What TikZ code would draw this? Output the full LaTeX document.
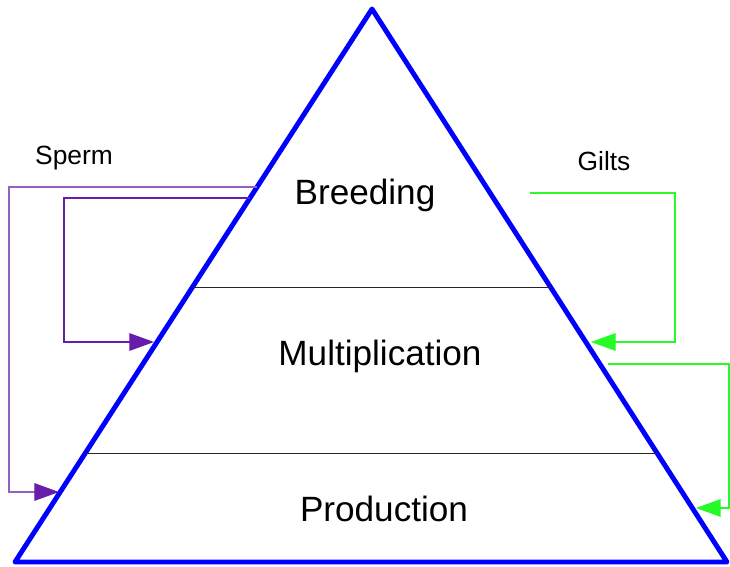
\documentclass[tikz,border=0pt]{standalone}
\usepackage{fontspec}
\setmainfont{Liberation Sans}
\usetikzlibrary{arrows.meta}
\definecolor{spermcol}{RGB}{102,30,170}
\definecolor{giltcol}{RGB}{40,250,40}
\begin{document}
\begin{tikzpicture}[x=0.02cm,y=-0.02cm,
  tier/.style={font=\fontsize{20}{24}\selectfont},
  flow/.style={font=\fontsize{15}{18}\selectfont},
  spermline/.style={draw=spermcol, line width=0.6pt, -{Triangle[length=14pt,width=10pt,color=spermcol]}},
  giltline/.style={draw=giltcol, line width=0.6pt, -{Triangle[length=14pt,width=10pt]}}]
\useasboundingbox (0,0) rectangle (730,566);
% pyramid
\coordinate (top) at (372,9);
\coordinate (bl) at (15,562);
\coordinate (br) at (727,562);
\draw [draw=blue, line width=2.8pt, line join=round] (top)--(bl)--(br)--cycle;
\coordinate (l1) at (192.5,287);
\coordinate (r1) at (550.5,287);
\coordinate (l2) at (85,453);
\coordinate (r2) at (657,453);
\draw [draw=black!85, line width=0.5pt] (l1)--(r1);
\draw [draw=black!85, line width=0.5pt] (l2)--(r2);
\node [tier] (breed) at (365,195) {Breeding};
\node [tier] (multi) at (380,356) {Multiplication};
\node [tier] (prod) at (384,509) {Production};
%
\node [flow] (sperm) at (74,158) {Sperm};
\coordinate (s1) at (257,187);
\coordinate (s1end) at (59,492);
\coordinate (s2) at (250,198);
\coordinate (s2end) at (154,342);
\draw [spermline, draw=spermcol!70] (s1) -| (9,492) -- (s1end);
\draw [spermline] (s2) -| (64,342) -- (s2end);
%
\node [flow] (gilts) at (604,161) {Gilts};
\coordinate (g1) at (530,193);
\coordinate (g1end) at (591,342);
\coordinate (g2) at (608,364);
\coordinate (g2end) at (696,508);
\draw [giltline] (g1) -| (675,342) -- (g1end);
\draw [giltline] (g2) -| (729,508) -- (g2end);
\end{tikzpicture}
\end{document}
